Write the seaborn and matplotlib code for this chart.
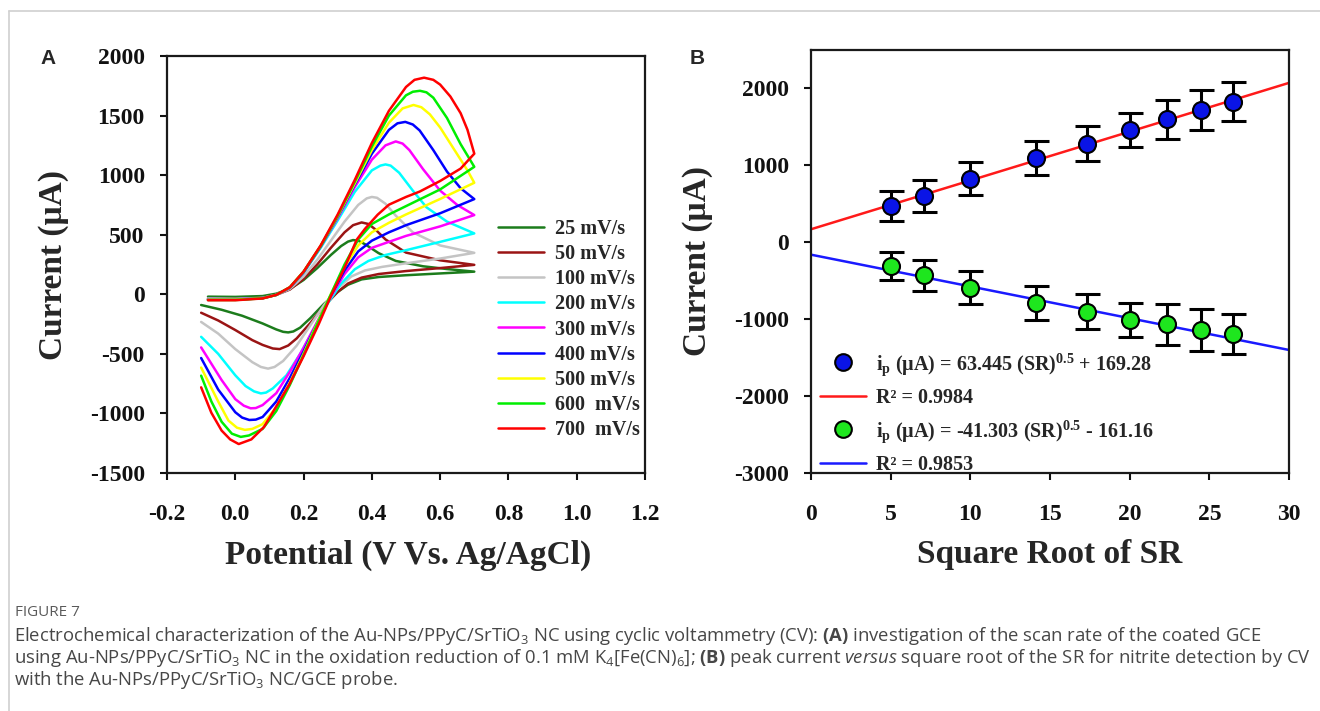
import numpy as np
import pandas as pd
import matplotlib
matplotlib.use('Agg')
import matplotlib.pyplot as plt
from matplotlib.lines import Line2D
import seaborn as sns

## Data ---------------------------------------------------------------------

# Panel A: cyclic voltammograms, forward branch then reverse branch
rates = ['25 mV/s', '50 mV/s', '100 mV/s', '200 mV/s', '300 mV/s',
         '400 mV/s', '500 mV/s', '600  mV/s', '700  mV/s']

cv25_x = [-0.08, 0.0, 0.08, 0.12, 0.16, 0.2, 0.24, 0.28, 0.31, 0.33, 0.345, 0.36, 0.38, 0.42, 0.47, 0.55, 0.62, 0.7,
          0.6, 0.5, 0.42, 0.37, 0.33, 0.3, 0.26, 0.22, 0.19, 0.17, 0.155, 0.14, 0.12, 0.08, 0.02, -0.04, -0.1]
cv25_y = [-20, -22, -15, 5, 45, 120, 220, 330, 405, 442, 455, 450, 420, 345, 280, 235, 212, 190,
          175, 160, 145, 125, 80, 20, -80, -200, -280, -312, -320, -315, -295, -245, -180, -130, -90]

cv50_x = [-0.08, 0.0, 0.08, 0.12, 0.16, 0.2, 0.24, 0.28, 0.32, 0.345, 0.37, 0.39, 0.41, 0.44, 0.5, 0.6, 0.7,
          0.6, 0.5, 0.42, 0.37, 0.33, 0.3, 0.26, 0.22, 0.18, 0.155, 0.13, 0.11, 0.08, 0.05, 0.0, -0.05, -0.1]
cv50_y = [-40, -40, -30, -5, 40, 130, 250, 390, 520, 580, 603, 590, 545, 460, 350, 285, 247,
          220, 195, 170, 140, 90, 20, -100, -240, -370, -430, -460, -455, -425, -385, -300, -220, -155]

cv100_x = [-0.08, 0.0, 0.08, 0.12, 0.16, 0.2, 0.24, 0.28, 0.32, 0.36, 0.385, 0.4, 0.415, 0.44, 0.47, 0.52, 0.6, 0.7,
           0.6, 0.5, 0.43, 0.38, 0.34, 0.3, 0.26, 0.22, 0.18, 0.14, 0.115, 0.096, 0.075, 0.05, 0.0, -0.05, -0.1]
cv100_y = [-35, -38, -30, -5, 45, 150, 290, 450, 610, 750, 805, 817, 810, 760, 660, 520, 410, 348,
           300, 260, 230, 200, 150, 50, -90, -260, -430, -560, -610, -624, -610, -570, -460, -330, -232]

cv200_x = [-0.08, 0.0, 0.08, 0.12, 0.16, 0.2, 0.25, 0.3, 0.35, 0.4, 0.425, 0.44, 0.455, 0.48, 0.52, 0.56, 0.62, 0.7,
           0.6, 0.5, 0.44, 0.39, 0.35, 0.31, 0.27, 0.23, 0.19, 0.15, 0.11, 0.09, 0.075, 0.055, 0.03, 0.0, -0.05, -0.1]
cv200_y = [-40, -42, -32, -5, 55, 180, 390, 620, 860, 1040, 1080, 1090, 1080, 1020, 870, 730, 610, 511,
           440, 370, 330, 280, 210, 90, -80, -290, -500, -680, -790, -825, -832, -815, -770, -680, -500, -357]

cv300_x = [-0.08, 0.0, 0.08, 0.12, 0.16, 0.2, 0.25, 0.3, 0.35, 0.4, 0.44, 0.47, 0.49, 0.51, 0.55, 0.6, 0.65, 0.7,
           0.6, 0.5, 0.45, 0.4, 0.36, 0.32, 0.28, 0.24, 0.2, 0.16, 0.12, 0.08, 0.06, 0.045, 0.025, 0.0, -0.04, -0.1]
cv300_y = [-40, -42, -32, -5, 55, 185, 400, 640, 900, 1130, 1250, 1283, 1265, 1210, 1050, 870, 750, 665,
           570, 490, 440, 390, 310, 170, -20, -230, -450, -650, -830, -930, -955, -957, -935, -880, -720, -446]

cv400_x = [-0.08, 0.0, 0.08, 0.12, 0.16, 0.2, 0.25, 0.3, 0.35, 0.4, 0.45, 0.475, 0.498, 0.52, 0.54, 0.58, 0.62, 0.66, 0.7,
           0.6, 0.5, 0.45, 0.4, 0.36, 0.32, 0.28, 0.24, 0.2, 0.16, 0.12, 0.08, 0.06, 0.041, 0.02, 0.0, -0.05, -0.1]
cv400_y = [-45, -45, -33, -5, 55, 185, 400, 650, 920, 1180, 1380, 1435, 1447, 1425, 1375, 1210, 1030, 890, 799,
           680, 580, 520, 450, 360, 200, -10, -240, -480, -700, -900, -1030, -1052, -1055, -1035, -990, -800, -535]

cv500_x = [-0.08, 0.0, 0.08, 0.12, 0.16, 0.2, 0.25, 0.3, 0.35, 0.4, 0.45, 0.49, 0.522, 0.545, 0.57, 0.6, 0.64, 0.68, 0.7,
           0.6, 0.5, 0.45, 0.4, 0.36, 0.32, 0.28, 0.24, 0.2, 0.16, 0.12, 0.08, 0.05, 0.028, 0.005, -0.02, -0.05, -0.1]
cv500_y = [-45, -45, -33, -5, 58, 190, 405, 655, 930, 1210, 1440, 1560, 1589, 1570, 1510, 1400, 1220, 1040, 936,
           800, 670, 600, 520, 410, 230, 0, -240, -500, -740, -950, -1090, -1130, -1138, -1120, -1060, -900, -615]

cv600_x = [-0.08, 0.0, 0.08, 0.12, 0.16, 0.2, 0.25, 0.3, 0.35, 0.4, 0.45, 0.5, 0.52, 0.541, 0.56, 0.58, 0.62, 0.66, 0.7,
           0.6, 0.5, 0.45, 0.4, 0.36, 0.32, 0.28, 0.24, 0.2, 0.16, 0.12, 0.08, 0.04, 0.016, -0.01, -0.04, -0.07, -0.1]
cv600_y = [-48, -48, -34, -5, 60, 190, 405, 660, 945, 1240, 1500, 1670, 1700, 1708, 1695, 1650, 1480, 1260, 1070,
           880, 740, 670, 590, 460, 250, 0, -250, -510, -760, -980, -1130, -1185, -1197, -1170, -1070, -900, -683]

cv700_x = [-0.08, 0.0, 0.08, 0.12, 0.16, 0.2, 0.25, 0.3, 0.35, 0.4, 0.45, 0.5, 0.525, 0.553, 0.58, 0.6, 0.63, 0.66,
           0.68, 0.7, 0.66, 0.6, 0.54, 0.5, 0.45, 0.417, 0.38, 0.356, 0.32, 0.28, 0.244, 0.2, 0.158, 0.121,
           0.084, 0.047, 0.01, -0.015, -0.04, -0.07, -0.1]
cv700_y = [-50, -50, -35, -5, 60, 190, 410, 670, 960, 1270, 1540, 1740, 1800, 1818, 1800, 1760, 1660, 1520,
           1381, 1180, 1055, 951, 862, 817, 752, 668, 550, 460, 223, -15, -253, -520, -758, -936,
           -1114, -1218, -1257, -1218, -1144, -995, -781]

cv_colors = ['#1c7c1c', '#9a1414', '#c4c4c4', '#00ffff', '#ff00ff',
             '#0000ff', '#ffff00', '#00ee00', '#ff0000']

# Panel B: peak current vs square root of scan rate
sqrt_sr = [5, 7.07, 10, 14.14, 17.32, 20, 22.36, 24.49, 26.46]
ipa = [472, 602, 829, 1097, 1282, 1458, 1597, 1718, 1829]
ipa_err = [190, 208, 215, 220, 227, 222, 248, 259, 250]
ipc = [-306, -431, -593, -792, -903, -1009, -1065, -1139, -1199]
ipc_err = [185, 197, 215, 218, 227, 222, 265, 275, 260]
fit_a = (63.445, 169.28)
fit_c = (-41.303, -161.16)
lab_a = r'$i_p$ (μA) = 63.445 (SR)$^{0.5}$ + 169.28'
lab_c = r'$i_p$ (μA) = -41.303 (SR)$^{0.5}$ - 161.16'
r2_a = 'R² = 0.9984'
r2_c = 'R² = 0.9853'

## Style --------------------------------------------------------------------
sns.set_style('ticks')
plt.rcParams['font.family'] = ['Liberation Serif', 'DejaVu Serif']
plt.rcParams['font.weight'] = 'bold'
plt.rcParams['axes.unicode_minus'] = False
plt.rcParams['mathtext.fontset'] = 'custom'
plt.rcParams['mathtext.default'] = 'regular'
plt.rcParams['mathtext.bf'] = 'Open Sans:bold'
plt.rcParams['mathtext.it'] = 'Open Sans:italic:normal'
plt.rcParams['mathtext.rm'] = 'Open Sans:normal'

W, H = 1320, 711
fig = plt.figure(figsize=(W / 100, H / 100), dpi=100)


def px_axes(l, t, r, b):
    return fig.add_axes([l / W, 1 - b / H, (r - l) / W, (b - t) / H])


axA = px_axes(167, 56, 645, 473)
axB = px_axes(811, 50, 1289, 473)

for ax in (axA, axB):
    for s in ax.spines.values():
        s.set_linewidth(1.6)
        s.set_color('#1a1a1a')
    ax.tick_params(direction='out', length=5, width=1.5, labelsize=17, colors='#111111')
    ax.tick_params(axis='y', pad=11)
    ax.tick_params(axis='x', pad=17)

## Panel A -------------------------------------------------------------------
cv_x = [cv25_x, cv50_x, cv100_x, cv200_x, cv300_x, cv400_x, cv500_x, cv600_x, cv700_x]
cv_y = [cv25_y, cv50_y, cv100_y, cv200_y, cv300_y, cv400_y, cv500_y, cv600_y, cv700_y]
for xs, ys, c, lab in zip(cv_x, cv_y, cv_colors, rates):
    sns.lineplot(x=xs, y=ys, sort=False, estimator=None, color=c, lw=1.8, ax=axA, label=lab)

axA.set_xlim(-0.2, 1.2)
axA.set_ylim(-1500, 2000)
axA.set_xticks(np.arange(-0.2, 1.21, 0.2))
axA.set_xticklabels([f'{v:.1f}' for v in np.arange(-0.2, 1.21, 0.2)])
axA.set_yticks(np.arange(-1500, 2001, 500))
axA.set_xlabel('Potential (V Vs. Ag/AgCl)', fontsize=24, fontweight='bold')
axA.set_ylabel('Current (μA)', fontsize=24, fontweight='bold')
axA.xaxis.set_label_coords(0.504, -0.160)
axA.yaxis.set_label_coords(-0.205, 0.5)
axA.legend(loc='upper left', bbox_to_anchor=(498 / W, 1 - 219 / H), bbox_transform=fig.transFigure,
           frameon=False, borderpad=0, borderaxespad=0, handlelength=2.3, handletextpad=0.55,
           labelspacing=0.255, prop={'family': 'Liberation Serif', 'weight': 'bold', 'size': 14.5})

## Panel B -------------------------------------------------------------------
ln_a = axB.axline((0, fit_a[1]), slope=fit_a[0], color='#ff1a1a', lw=1.8, zorder=2)
ln_c = axB.axline((0, fit_c[1]), slope=fit_c[0], color='#1a1aff', lw=1.8, zorder=2)
axB.errorbar(sqrt_sr, ipa, yerr=ipa_err, fmt='none', ecolor='black', elinewidth=2.2,
             capsize=9, capthick=2.2, zorder=3)
axB.errorbar(sqrt_sr, ipc, yerr=ipc_err, fmt='none', ecolor='black', elinewidth=2.2,
             capsize=9, capthick=2.2, zorder=3)
sns.scatterplot(x=sqrt_sr, y=ipa, color='#0a14e6', edgecolor='black', linewidth=1.5, s=150,
                zorder=4, ax=axB)
sns.scatterplot(x=sqrt_sr, y=ipc, color='#1ee61e', edgecolor='black', linewidth=1.5, s=150,
                zorder=4, ax=axB)

axB.set_xlim(0, 30)
axB.set_ylim(-3000, 2500)
axB.set_xticks(range(0, 31, 5))
axB.set_yticks(range(-3000, 2001, 1000))
axB.set_xlabel('Square Root of SR', fontsize=24, fontweight='bold')
axB.set_ylabel('Current (μA)', fontsize=24, fontweight='bold')
axB.xaxis.set_label_coords(0.5, -0.157)
axB.yaxis.set_label_coords(-0.205, 0.5)

h_a = Line2D([], [], ls='none', marker='o', ms=12, mfc='#0a14e6', mec='black', mew=1.5)
h_c = Line2D([], [], ls='none', marker='o', ms=12, mfc='#1ee61e', mec='black', mew=1.5)
axB.legend([h_a, ln_a, h_c, ln_c], [lab_a, r2_a, lab_c, r2_c], loc='upper left',
           bbox_to_anchor=(820 / W, 1 - 351 / H), bbox_transform=fig.transFigure,
           frameon=False, borderpad=0, borderaxespad=0, handlelength=2.3, handletextpad=0.5,
           labelspacing=0.5, prop={'family': 'Liberation Serif', 'weight': 'bold', 'size': 14.5})

for lab in axA.get_xticklabels() + axA.get_yticklabels() + axB.get_xticklabels() + axB.get_yticklabels():
    lab.set_fontweight('bold')

## Panel letters, frame and caption ------------------------------------------
fig.text(40 / W, 1 - 58 / H, 'A', fontsize=15, fontweight='bold', family='Liberation Sans', va='center')
fig.text(690 / W, 1 - 58 / H, 'B', fontsize=15, fontweight='bold', family='Liberation Sans', va='center')

fig.add_artist(Line2D([9 / W, 1], [1 - 11 / H, 1 - 11 / H], color='#d0d0d0', lw=1.2))
fig.add_artist(Line2D([9 / W, 9 / W], [0, 1 - 11 / H], color='#d0d0d0', lw=1.2))

cap_font = dict(family='Open Sans', fontweight='normal', va='center')
fig.text(15 / W, 1 - 612 / H, 'FIGURE 7', fontsize=11, color='#5a5a5a', **cap_font)
cap_lines = [
    r'Electrochemical characterization of the Au-NPs/PPyC/SrTiO$_3$ NC using cyclic voltammetry (CV): '
    r'$\mathbf{(A)}$ investigation of the scan rate of the coated GCE',
    r'using Au-NPs/PPyC/SrTiO$_3$ NC in the oxidation reduction of 0.1 mM K$_4$[Fe(CN)$_6$]; '
    r'$\mathbf{(B)}$ peak current $\mathit{versus}$ square root of the SR for nitrite detection by CV',
    r'with the Au-NPs/PPyC/SrTiO$_3$ NC/GCE probe.',
]
for i, line in enumerate(cap_lines):
    fig.text(14 / W, 1 - (636 + 22 * i) / H, line, fontsize=13.3, color='#474747', **cap_font)

fig.savefig('out.png', dpi=100)
